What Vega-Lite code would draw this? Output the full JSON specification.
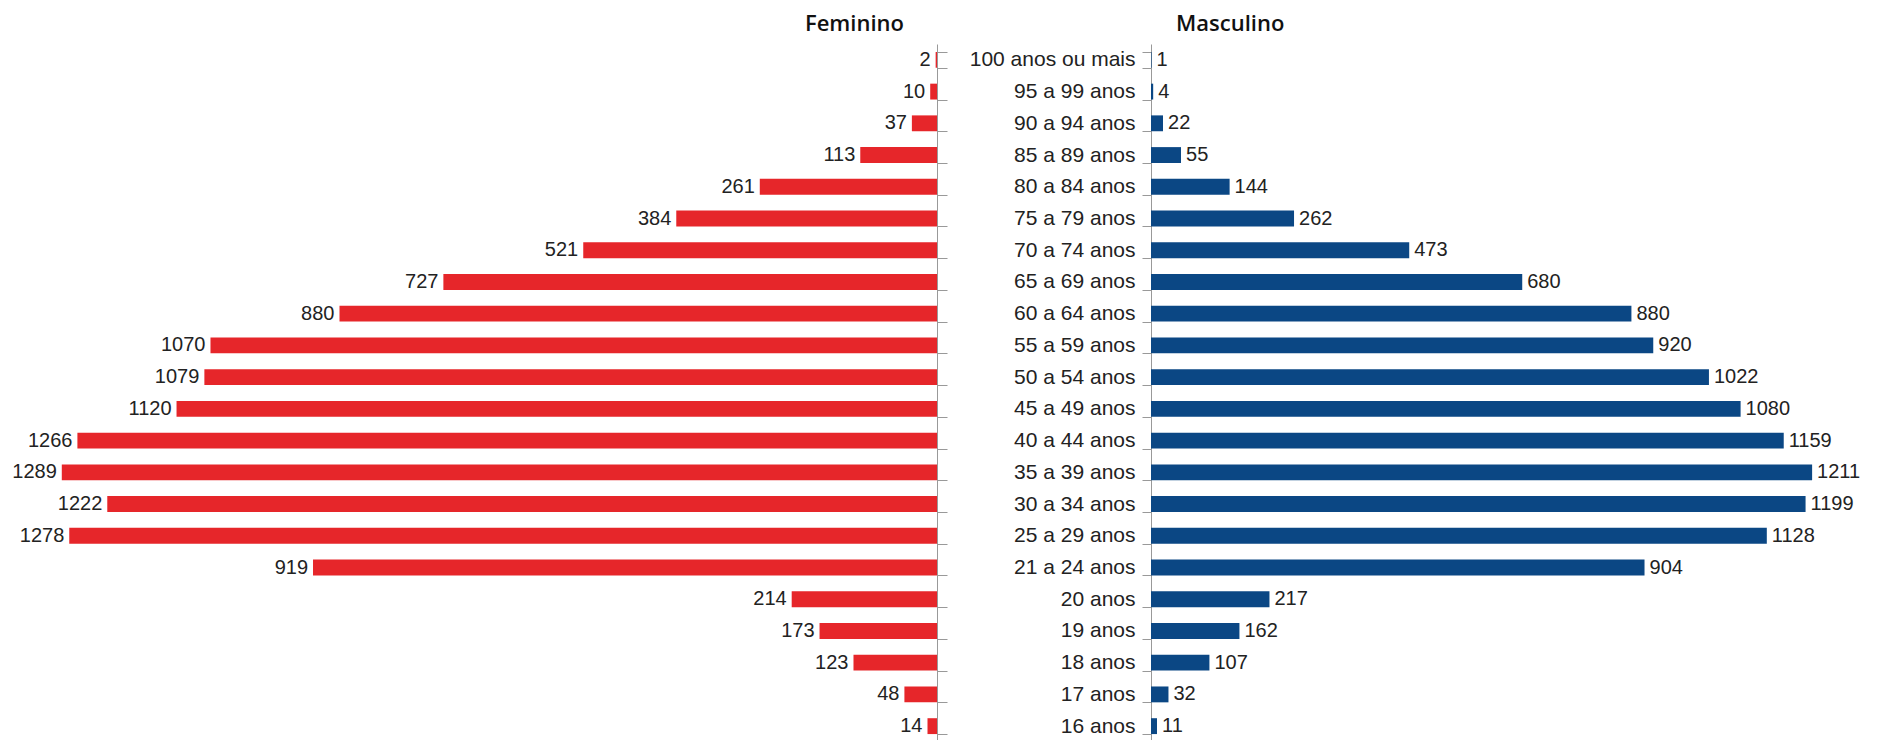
{
  "$schema": "https://vega.github.io/schema/vega-lite/v6.json",
  "padding": {"top": 13, "left": 0, "right": 0, "bottom": 0},
  "autosize": {"type": "pad"},
  "background": "white",
  "config": {"view": {"stroke": null}, "font": "Liberation Sans"},
  "data": {"values": [
    {"age": "100 anos ou mais", "F": 2, "M": 1},
    {"age": "95 a 99 anos", "F": 10, "M": 4},
    {"age": "90 a 94 anos", "F": 37, "M": 22},
    {"age": "85 a 89 anos", "F": 113, "M": 55},
    {"age": "80 a 84 anos", "F": 261, "M": 144},
    {"age": "75 a 79 anos", "F": 384, "M": 262},
    {"age": "70 a 74 anos", "F": 521, "M": 473},
    {"age": "65 a 69 anos", "F": 727, "M": 680},
    {"age": "60 a 64 anos", "F": 880, "M": 880},
    {"age": "55 a 59 anos", "F": 1070, "M": 920},
    {"age": "50 a 54 anos", "F": 1079, "M": 1022},
    {"age": "45 a 49 anos", "F": 1120, "M": 1080},
    {"age": "40 a 44 anos", "F": 1266, "M": 1159},
    {"age": "35 a 39 anos", "F": 1289, "M": 1211},
    {"age": "30 a 34 anos", "F": 1222, "M": 1199},
    {"age": "25 a 29 anos", "F": 1278, "M": 1128},
    {"age": "21 a 24 anos", "F": 919, "M": 904},
    {"age": "20 anos", "F": 214, "M": 217},
    {"age": "19 anos", "F": 173, "M": 162},
    {"age": "18 anos", "F": 123, "M": 107},
    {"age": "17 anos", "F": 48, "M": 32},
    {"age": "16 anos", "F": 14, "M": 11}
  ]},
  "spacing": 17,
  "hconcat": [
    {
      "width": 937,
      "height": 698,
      "title": {"text": "Feminino", "anchor": "end", "frame": "group", "dx": -33, "font": "Open Sans", "fontSize": 22, "fontWeight": 600, "offset": 8, "color": "#111"},
      "encoding": {
        "y": {"field": "age", "type": "nominal", "sort": null,
          "scale": {"paddingInner": 0.5, "paddingOuter": 0.25},
          "axis": {"orient": "right", "labels": false, "title": null, "tickBand": "extent", "tickSize": 10, "domainColor": "#999", "tickColor": "#999", "minExtent": 10, "maxExtent": 10}},
        "x": {"field": "F", "type": "quantitative", "scale": {"domain": [0, 1380], "reverse": true}, "axis": null}
      },
      "layer": [
        {"mark": {"type": "bar", "color": "#e6262a"}},
        {"mark": {"type": "text", "align": "right", "dx": -5, "fontSize": 20, "color": "#222"}, "encoding": {"text": {"field": "F"}}}
      ]
    },
    {
      "width": 731,
      "height": 698,
      "title": {"text": "Masculino", "anchor": "start", "frame": "group", "dx": 25, "dy": 11, "font": "Open Sans", "fontSize": 22, "fontWeight": 600, "offset": 8, "color": "#111"},
      "encoding": {
        "y": {"field": "age", "type": "nominal", "sort": null,
          "scale": {"paddingInner": 0.5, "paddingOuter": 0.25},
          "axis": {"orient": "left", "title": null, "tickBand": "extent", "tickSize": 9, "labelPadding": 7, "labelFontSize": 21, "labelColor": "#222", "labelFont": "Liberation Sans", "domainColor": "#999", "tickColor": "#999", "minExtent": 186, "maxExtent": 186, "labelLimit": 300}},
        "x": {"field": "M", "type": "quantitative", "scale": {"domain": [0, 1339]}, "axis": null}
      },
      "layer": [
        {"mark": {"type": "bar", "color": "#0b4784"}},
        {"mark": {"type": "text", "align": "left", "dx": 5, "fontSize": 20, "color": "#222"}, "encoding": {"text": {"field": "M"}}}
      ]
    }
  ]
}
